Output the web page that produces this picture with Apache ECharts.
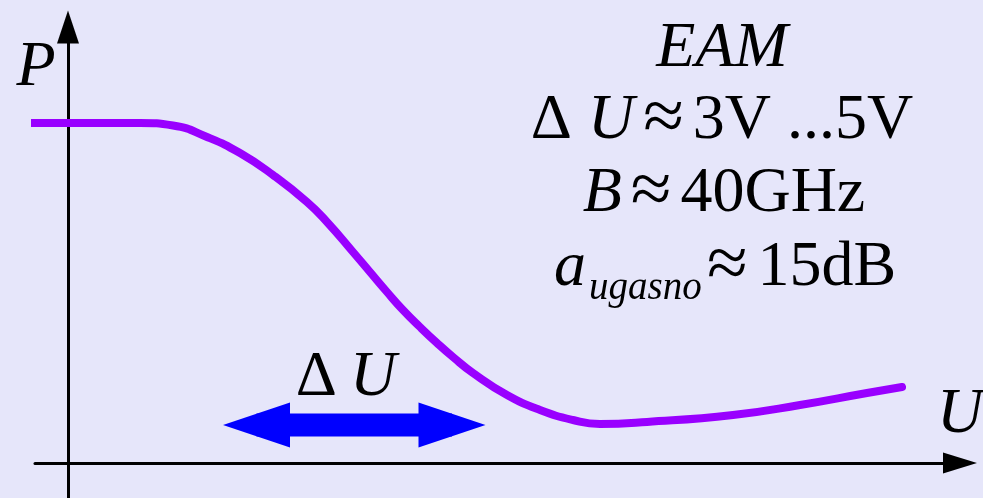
<!DOCTYPE html>
<html>
<head>
<meta charset="utf-8">
<title>EAM</title>
<script src="https://cdn.jsdelivr.net/npm/echarts@6/dist/echarts.min.js"></script>
<style>
    html, body { margin: 0; padding: 0; background: #e6e6fa; }
    #chart { width: 983px; height: 498px; }
</style>
</head>
<body>
<div id="chart"></div>
<script>
// transfer curve P(U), arbitrary units
const curveU = [-3.8, 3.2, 7.2, 10.5, 13.9, 17.2, 20.5, 23.9, 25.9, 28.5, 30.2, 31.9, 33.5, 35.2, 36.9, 38.5, 40.5, 43.9, 47.2, 50.5, 53.2, 57.9, 66.5, 73.2, 79.9, 83.4]
const curveP = [34.0, 34.0, 34.0, 33.75, 32.6, 31.0, 28.8, 26.1, 24.1, 21.1, 19.1, 17.1, 15.3, 13.6, 12.0, 10.6, 9.0, 6.8, 5.3, 4.3, 3.9, 4.1, 4.8, 5.8, 7.0, 7.6]

// delta U arrow (centres of the two heads)
const arrowU = [18.85, 38.4]
const arrowP = 3.8

const serif = 'Liberation Serif'
const fs = 64

var myChart = echarts.init(document.getElementById('chart'))

const axisLine = (size) => ({
    onZero: true,
    symbol: ['none', 'triangle'],
    symbolSize: size,
    lineStyle: { color: '#000', width: 3 }
})

const rich = {
    r: { fontFamily: serif, fontSize: fs },
    i: { fontFamily: serif, fontSize: fs, fontStyle: 'italic' },
    s: { fontFamily: serif, fontSize: 74 },
    g: { fontFamily: serif, fontSize: fs, width: 9 },
    w: { fontFamily: serif, fontSize: fs, width: 10 }
}

const option = {
    backgroundColor: '#e6e6fa',
    animation: false,
    grid: {
        left: 35,
        right: 23,
        top: 27,
        bottom: 0
    },
    xAxis: {
        type: 'value',
        min: -3.3,
        max: 89.2,
        axisLine: axisLine([21, 34]),
        axisTick: { show: false },
        axisLabel: { show: false },
        splitLine: { show: false }
    },
    yAxis: {
        type: 'value',
        min: -3.5,
        max: 43.6,
        axisLine: axisLine([22, 33]),
        axisTick: { show: false },
        axisLabel: { show: false },
        splitLine: { show: false }
    },
    series: [
        {
            type: 'line',
            silent: true,
            clip: false,
            smooth: 0.5,
            showSymbol: false,
            lineStyle: { color: '#9900ff', width: 8, cap: 'round', join: 'round' },
            data: curveU.map((u, i) => [u, curveP[i]])
        },
        {
            type: 'line',
            silent: true,
            clip: false,
            symbol: 'triangle',
            symbolSize: [45, 67],
            itemStyle: { color: '#0000ff' },
            lineStyle: { color: '#0000ff', width: 23, cap: 'butt' },
            data: [
                { value: [arrowU[0], arrowP], symbolRotate: 90 },
                { value: [arrowU[1], arrowP], symbolRotate: -90 }
            ]
        }
    ],
    graphic: [
        {
            type: 'text', x: 36, y: 68,
            style: { text: 'P', fill: '#000', font: 'italic ' + fs + 'px ' + serif, align: 'center', verticalAlign: 'middle' }
        },
        {
            type: 'text', x: 960, y: 415,
            style: { text: 'U', fill: '#000', font: 'italic ' + fs + 'px ' + serif, align: 'center', verticalAlign: 'middle' }
        },
        {
            type: 'text', x: 346, y: 378,
            style: {
                text: '{r|Δ}{i|U}', fill: '#000', align: 'center', verticalAlign: 'middle',
                rich: {
                    r: { fontFamily: serif, fontSize: fs, padding: [0, 13, 0, 0] },
                    i: { fontFamily: serif, fontSize: fs, fontStyle: 'italic' }
                }
            }
        },
        {
            type: 'text', x: 722, y: 49,
            style: { text: 'EAM', fill: '#000', font: 'italic ' + fs + 'px ' + serif, align: 'center', verticalAlign: 'middle' }
        },
        {
            type: 'text', x: 722, y: 121,
            style: {
                text: '{r|Δ }{i|U}{g| }{s|≈}{g| }{r|3V ...5V}', fill: '#000', align: 'center', verticalAlign: 'middle',
                rich: rich
            }
        },
        {
            type: 'text', x: 724, y: 194,
            style: {
                text: '{i|B}{g| }{s|≈}{g| }{r|40GHz}', fill: '#000', align: 'center', verticalAlign: 'middle',
                rich: rich
            }
        },
        {
            type: 'text', x: 554, y: 268,
            style: { text: 'a', fill: '#000', font: 'italic ' + fs + 'px ' + serif, align: 'left', verticalAlign: 'middle' }
        },
        {
            type: 'text', x: 589, y: 289,
            style: { text: 'ugasno', fill: '#000', font: 'italic 39px ' + serif, align: 'left', verticalAlign: 'middle' }
        },
        {
            type: 'text', x: 707, y: 268,
            style: {
                text: '{s|≈}{w| }{r|15dB}', fill: '#000', align: 'left', verticalAlign: 'middle',
                rich: rich
            }
        }
    ]
}
myChart.setOption(option)
</script>
</body>
</html>
